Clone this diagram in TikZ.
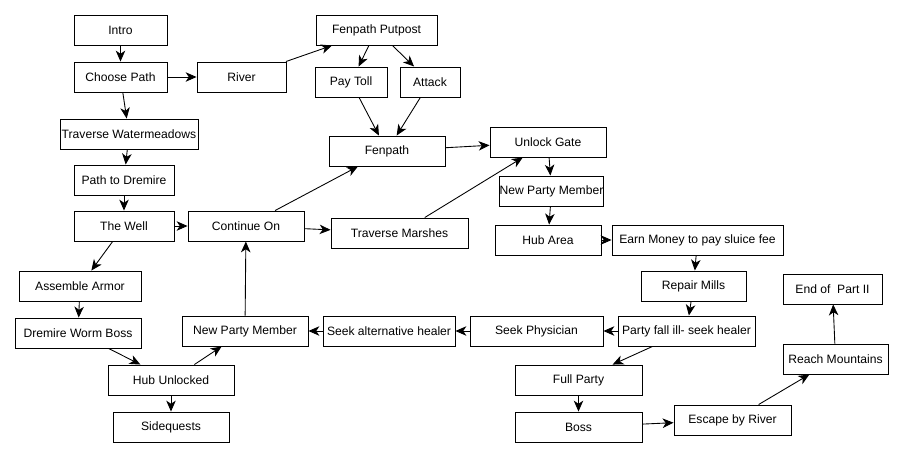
\documentclass[tikz,border=0pt]{standalone}
\usepackage{fontspec}
\setmainfont{Liberation Sans}
\usepackage{tikz}
\usetikzlibrary{arrows.meta}

\begin{document}
\begin{tikzpicture}[x=0.02cm, y=-0.02cm,
    every node/.style={rectangle, draw, line width=0.55pt, inner sep=0pt,
        minimum height=0.6cm, font=\fontsize{6.9}{8}\selectfont},
    every path/.style={line width=0.5pt},
    go/.style={-{Stealth[length=6.2pt, width=5.4pt, inset=1.8pt]}}]
                \useasboundingbox (0,0) rectangle (904,458);

                \node[minimum width=1.86cm] (Intro) at (120.5,30) {Intro};
                \node[minimum width=1.86cm] (Choose) at (120.5,77) {Choose Path};
                \node[minimum width=1.78cm] (River) at (241.5,77) {River};
                \node[minimum width=2.76cm] (Meadows) at (129,134) {Traverse Watermeadows};
                \node[minimum width=2.0cm] (PathDr) at (124,180) {Path to Dremire};
                \node[minimum width=2.0cm] (Well) at (124,226) {The Well};
                \node[minimum width=2.32cm] (Continue) at (246,226) {Continue On};
                \node[minimum width=2.74cm] (Marshes) at (399.5,233) {Traverse Marshes};
                \node[minimum width=2.44cm] (Armor) at (80,286) {Assemble Armor};
                \node[minimum width=2.52cm] (Worm) at (78,333) {Dremire Worm Boss};
                \node[minimum width=2.52cm] (HubU) at (171,380) {Hub Unlocked};
                \node[minimum width=2.32cm] (Side) at (171,427) {Sidequests};
                \node[minimum width=2.52cm] (NPMa) at (245,331) {New Party Member};
                \node[minimum width=2.64cm] (AltHeal) at (389,331) {Seek alternative healer};
                \node[minimum width=2.66cm] (Phys) at (536.5,331) {Seek Physician};
                \node[minimum width=2.74cm] (Ill) at (686.5,331) {Party fall ill- seek healer};
                \node[minimum width=2.42cm] (Putpost) at (376.5,30) {Fenpath Putpost};
                \node[minimum width=1.44cm] (Toll) at (351,82) {Pay Toll};
                \node[minimum width=1.2cm] (Attack) at (430,82) {Attack};
                \node[minimum width=2.32cm] (Fenpath) at (387,151) {Fenpath};
                \node[minimum width=2.32cm] (Gate) at (548,142) {Unlock Gate};
                \node[minimum width=2.02cm] (NPMb) at (551.5,191) {New Party Member};
                \node[minimum width=2.12cm] (HubA) at (548,240) {Hub Area};
                \node[minimum width=3.42cm] (Money) at (697.5,240) {Earn Money to pay sluice fee};
                \node[minimum width=2.1cm] (Mills) at (693.5,286) {Repair Mills};
                \node[minimum width=1.98cm] (End) at (832.5,289) {End of\ \ Part II};
                \node[minimum width=2.1cm] (Mount) at (835.5,359) {Reach Mountains};
                \node[minimum width=2.54cm] (Full) at (578.5,380) {Full Party};
                \node[minimum width=2.54cm] (Boss) at (578.5,427) {Boss};
                \node[minimum width=2.34cm] (Escape) at (732.5,420) {Escape by River};

                \draw[go] (Intro) -- (Choose);
                \draw[go] (Choose) -- (River);
                \draw[go] (River) -- (Putpost);
                \draw[go] (Putpost) -- (Toll);
                \draw[go] (Putpost) -- (Attack);
                \draw[go] (Toll) -- (Fenpath);
                \draw[go] (Attack) -- (Fenpath);
                \draw[go] (Fenpath) -- (Gate);
                \draw[go] (Choose) -- (Meadows);
                \draw[go] (Meadows) -- (PathDr);
                \draw[go] (PathDr) -- (Well);
                \draw[go] (Well) -- (Continue);
                \draw[go] (Continue) -- (Fenpath);
                \draw[go] (Continue) -- (Marshes);
                \draw[go] (Marshes) -- (Gate);
                \draw[go] (Gate) -- (NPMb);
                \draw[go] (NPMb) -- (HubA);
                \draw[go] (HubA) -- (Money);
                \draw[go] (Money) -- (Mills);
                \draw[go] (Mills) -- (Ill);
                \draw[go] (Ill) -- (Phys);
                \draw[go] (Phys) -- (AltHeal);
                \draw[go] (AltHeal) -- (NPMa);
                \draw[go] (NPMa) -- (Continue);
                \draw[go] (Ill) -- (Full);
                \draw[go] (Full) -- (Boss);
                \draw[go] (Boss) -- (Escape);
                \draw[go] (Escape) -- (Mount);
                \draw[go] (Mount) -- (End);
                \draw[go] (Well) -- (Armor);
                \draw[go] (Armor) -- (Worm);
                \draw[go] (Worm) -- (HubU);
                \draw[go] (HubU) -- (Side);
                \draw[go] (HubU) -- (NPMa);
            \end{tikzpicture}
\end{document}
